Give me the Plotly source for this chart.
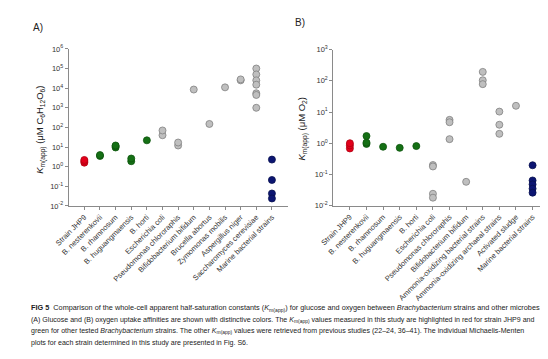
import plotly.graph_objects as go

# ---------- data ----------
cats_a = ["Strain JHP9", "B. nesterenkovii", "B. rhamnosum", "B. huguangmaensis", "B. horti",
          "Escherichia coli", "Pseudomonas chlororaphis", "Bifidobacterium bifidum",
          "Brucella abortus", "Zymomonas mobilis", "Aspergillus niger",
          "Saccharomyces cerevisiae", "Marine bacterial strains"]
vals_a = [
    [1.6, 1.9, 2.2],
    [3.5, 3.9],
    [9.5, 11.0, 12.0],
    [1.9, 2.6],
    [22.0],
    [40.0, 70.0],
    [12.0, 17.0],
    [8500.0],
    [150.0],
    [11000.0],
    [25000.0, 28000.0],
    [100000.0, 50000.0, 25000.0, 15000.0, 5500.0, 4500.0, 1000.0],
    [2.3, 0.21, 0.043, 0.024],
]
groups_a = ["red", "green", "green", "green", "green", "grey", "grey", "grey", "grey",
            "grey", "grey", "grey", "navy"]

cats_b = ["Strain JHP9", "B. nesterenkovii", "B. rhamnosum", "B. huguangmaensis", "B. horti",
          "Escherichia coli", "Pseudomonas chlororaphis", "Bifidobacterium bifidum",
          "Ammonia-oxidizing bacterial strains", "Ammonia-oxidizing archaeal strains",
          "Activated sludge", "Marine bacterial strains"]
vals_b = [
    [0.68, 0.85, 1.0],
    [0.95, 1.05, 1.7],
    [0.77],
    [0.71],
    [0.81],
    [0.20, 0.18, 0.024, 0.018],
    [5.6, 4.7, 1.35],
    [0.058],
    [193.0, 104.0, 78.0],
    [10.3, 3.9, 2.0],
    [15.8],
    [0.197, 0.064, 0.048, 0.035, 0.026],
]
groups_b = ["red", "green", "green", "green", "green", "grey", "grey", "grey", "grey",
            "grey", "grey", "navy"]

ytick_exp_a = [-2, -1, 0, 1, 2, 3, 4, 5, 6]
ytick_exp_b = [-2, -1, 0, 1, 2, 3]

fill = {"red": "#e3001b", "green": "#157015", "grey": "#bfbfbf", "navy": "#0c1572"}
edge = {"red": "#b00010", "green": "#0e560e", "grey": "#808080", "navy": "#07104f"}

FONT = "Liberation Sans, Arial, sans-serif"

fig = go.Figure()


def add_panel(cats, vals, groups, xa, ya):
    for c, v, g in zip(cats, vals, groups):
        fig.add_trace(go.Scatter(
            x=[c] * len(v), y=v, mode="markers", xaxis=xa, yaxis=ya,
            showlegend=False, hoverinfo="x+y",
            marker=dict(size=7, color=fill[g], line=dict(color=edge[g], width=0.8)),
        ))


add_panel(cats_a, vals_a, groups_a, "x", "y")
add_panel(cats_b, vals_b, groups_b, "x2", "y2")

W, H = 548, 359


def px_x(p):
    return p / W


def px_y(p):
    return 1 - p / H


axis_common = dict(showline=True, linecolor="#8a8a8a", linewidth=1, ticks="outside",
                   ticklen=3, tickcolor="#8a8a8a", showgrid=False, zeroline=False,
                   tickfont=dict(family=FONT, size=7.5, color="#333333"))

fig.update_layout(
    width=W, height=H, margin=dict(l=0, r=0, t=0, b=0),
    paper_bgcolor="white", plot_bgcolor="white",
    xaxis=dict(domain=[px_x(47), px_x(272)], type="category", categoryorder="array",
               categoryarray=cats_a, range=[-1, len(cats_a)], tickangle=-45,
               anchor="y", **axis_common),
    yaxis=dict(domain=[px_y(198), px_y(36)], type="log", range=[-2, 6],
               tickvals=[10 ** e for e in ytick_exp_a],
               ticktext=[f"10<sup>{e}</sup>" for e in ytick_exp_a],
               anchor="x", **axis_common),
    xaxis2=dict(domain=[px_x(319), px_x(541)], type="category", categoryorder="array",
                categoryarray=cats_b, range=[-1, len(cats_b)], tickangle=-45,
                anchor="y2", **axis_common),
    yaxis2=dict(domain=[px_y(197.7), px_y(36.7)], type="log", range=[-2, 3],
                tickvals=[10 ** e for e in ytick_exp_b],
                ticktext=[f"10<sup>{e}</sup>" for e in ytick_exp_b],
                anchor="x2", **axis_common),
)

ann = []
ann.append(dict(text="A)", x=px_x(8), y=px_y(14), xref="paper", yref="paper",
                xanchor="left", yanchor="middle", showarrow=False,
                font=dict(family=FONT, size=10, color="#222")))
ann.append(dict(text="B)", x=px_x(278), y=px_y(9), xref="paper", yref="paper",
                xanchor="left", yanchor="middle", showarrow=False,
                font=dict(family=FONT, size=10, color="#222")))
ann.append(dict(text="<i>K</i><sub>m(app)</sub> (μM C<sub>6</sub>H<sub>12</sub>O<sub>6</sub>)",
                x=px_x(18), y=px_y(120), xref="paper", yref="paper", textangle=-90,
                xanchor="center", yanchor="middle", showarrow=False,
                font=dict(family=FONT, size=9.5, color="#222")))
ann.append(dict(text="<i>K</i><sub>m(app)</sub> (μM O<sub>2</sub>)",
                x=px_x(287), y=px_y(118), xref="paper", yref="paper", textangle=-90,
                xanchor="center", yanchor="middle", showarrow=False,
                font=dict(family=FONT, size=9.5, color="#222")))

caption = [
    "<b>FIG 5</b>  Comparison of the whole-cell apparent half-saturation constants (<i>K</i><sub>m(app)</sub>) for glucose and oxygen between <i>Brachybacterium</i> strains and other microbes.",
    "(A) Glucose and (B) oxygen uptake affinities are shown with distinctive colors. The <i>K</i><sub>m(app)</sub> values measured in this study are highlighted in red for strain JHP9 and",
    "green for other tested <i>Brachybacterium</i> strains. The other <i>K</i><sub>m(app)</sub> values were retrieved from previous studies (22–24, 36–41). The individual Michaelis-Menten",
    "plots for each strain determined in this study are presented in Fig. S6.",
]
cap_y = [303, 315.5, 327.5, 339]
cap_size = [7.3, 7.05, 7.05, 7.05]
for t, yy, s in zip(caption, cap_y, cap_size):
    ann.append(dict(text=t, x=px_x(6), y=px_y(yy), xref="paper", yref="paper",
                    xanchor="left", yanchor="middle", showarrow=False,
                    font=dict(family="Liberation Sans, Arial, sans-serif",
                              size=s, color="#222")))
fig.update_layout(annotations=ann)

fig.write_html("out.html")
